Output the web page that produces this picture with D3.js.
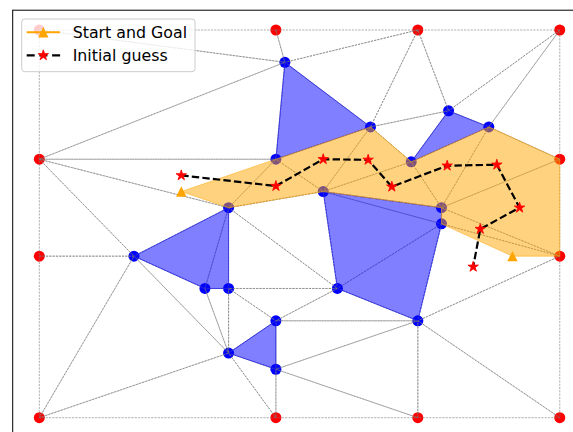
<!DOCTYPE html>
<html>
<head>
<meta charset="utf-8">
<script src="https://cdn.jsdelivr.net/npm/d3@7"></script>
<style>
  html, body { margin: 0; padding: 0; background: #fff; overflow: hidden; }
  svg { display: block; }
</style>
</head>
<body>
<svg id="chart" width="573" height="432"></svg>
<script>
// Mesh nodes: fixed boundary anchors first, then obstacle corners
const boundaryX = [0, 5, 8, 11, 0, 11, 0, 11, 0, 5, 8, 11];
const boundaryY = [12, 12, 12, 12, 8, 8, 5, 5, 0, 0, 0, 0];
const obstacleX = [5.19, 7, 5, 8.65, 9.5, 7.86, 6, 8.5, 8.5, 6.3, 8, 4, 2, 3.5, 4, 5, 4, 5];
const obstacleY = [11, 9, 8, 9.5, 9, 7.92, 7, 6.5, 6, 4, 3, 6.5, 5, 4, 4, 3, 2, 1.5];

// Triangulation of the nodes (indices: boundary 0-11, obstacle 12-29)
const triangles = [
  [0, 1, 12], [1, 2, 12], [2, 12, 13], [2, 13, 15], [2, 3, 15], [3, 15, 16],
  [3, 16, 5], [13, 15, 17], [15, 16, 17], [12, 13, 14], [4, 12, 14], [0, 12, 4],
  [4, 14, 23], [14, 13, 18], [13, 17, 18], [17, 18, 19], [16, 17, 19], [16, 19, 5],
  [5, 19, 7], [19, 20, 7], [18, 19, 20], [18, 20, 21], [20, 21, 22], [20, 22, 7],
  [7, 22, 11], [22, 11, 10], [22, 29, 10], [29, 10, 9], [27, 29, 22], [21, 27, 22],
  [18, 23, 21], [23, 21, 26], [21, 26, 27], [26, 27, 28], [27, 28, 29], [28, 29, 9],
  [8, 28, 9], [8, 24, 28], [24, 25, 28], [25, 26, 28], [23, 24, 25], [23, 25, 26],
  [4, 23, 24], [4, 24, 6], [6, 24, 8], [14, 23, 18]
];

// Obstacle outlines (node indices)
const obstacles = [
  [12, 13, 14],
  [15, 16, 17],
  [18, 19, 20, 22, 21],
  [23, 24, 25, 26],
  [27, 28, 29]
];

// Free corridor joining start and goal
const corridorX = [3, 5, 7, 7.86, 9.5, 11, 11, 10, 8.5, 8.5, 6, 4];
const corridorY = [7, 8, 9, 7.92, 9, 8, 5, 5, 6, 6.5, 7, 6.5];

// Start and goal
const startGoalX = [3, 10];
const startGoalY = [7, 5];

// Initial guess waypoints
const guessX = [3, 5, 6, 6.95, 7.45, 8.62, 9.67, 10.15, 9.32, 9.17];
const guessY = [7.5, 7.17, 8, 7.98, 7.15, 7.8, 7.83, 6.5, 5.84, 4.67];

const legendLabels = ["Start and Goal", "Initial guess"];

const nodesX = boundaryX.concat(obstacleX);
const nodesY = boundaryY.concat(obstacleY);
const nodes = nodesX.map((v, i) => [v, nodesY[i]]);

const svg = d3.select("#chart");

const x = d3.scaleLinear().domain([-0.55, 11.55]).range([13.3, 585.8]);
const y = d3.scaleLinear().domain([-0.6, 12.6]).range([437.1, 10.6]);

const ORANGE = "#ffa500";

const closed = d3.line().x(d => x(d[0])).y(d => y(d[1])).curve(d3.curveLinearClosed);

// nodes
svg.append("g").selectAll("circle")
  .data(nodes)
  .join("circle")
  .attr("cx", d => x(d[0]))
  .attr("cy", d => y(d[1]))
  .attr("r", 5.5)
  .attr("fill", (d, i) => i < boundaryX.length ? "#ff0000" : "#0000ff");

// triangulation edges, each triangle outlined
svg.append("g").selectAll("path")
  .data(triangles)
  .join("path")
  .attr("d", t => closed(t.map(i => nodes[i])))
  .attr("fill", "none")
  .attr("stroke", "#7a7a7a")
  .attr("stroke-width", 0.6)
  .attr("stroke-dasharray", "2.2,1.1");

// obstacles
svg.append("g").selectAll("path")
  .data(obstacles)
  .join("path")
  .attr("d", p => closed(p.map(i => nodes[i])))
  .attr("fill", "#0000ff")
  .attr("fill-opacity", 0.5)
  .attr("stroke", "#0000ff")
  .attr("stroke-opacity", 0.5)
  .attr("stroke-width", 1);

// corridor
const corridor = corridorX.map((v, i) => [v, corridorY[i]]);
svg.append("path")
  .attr("d", closed(corridor))
  .attr("fill", ORANGE)
  .attr("fill-opacity", 0.5)
  .attr("stroke", ORANGE)
  .attr("stroke-opacity", 0.5)
  .attr("stroke-width", 1);

// initial guess
const guess = guessX.map((v, i) => [v, guessY[i]]);
svg.append("path")
  .attr("d", d3.line().x(d => x(d[0])).y(d => y(d[1]))(guess))
  .attr("fill", "none")
  .attr("stroke", "#000")
  .attr("stroke-width", 2.2)
  .attr("stroke-dasharray", "7.4,3.2");

const star = d3.symbol().type(d3.symbolStar).size(34);
svg.append("g").selectAll("path")
  .data(guess)
  .join("path")
  .attr("transform", d => `translate(${x(d[0])},${y(d[1])})`)
  .attr("d", star)
  .attr("fill", "#ff0000")
  .attr("stroke", "#ff0000")
  .attr("stroke-width", 0.8);

// start / goal markers (triangle as tall as it is wide)
const tri = h => `M0,${-h}L${-h},${h}L${h},${h}Z`;
svg.append("g").selectAll("path")
  .data(startGoalX.map((v, i) => [v, startGoalY[i]]))
  .join("path")
  .attr("transform", d => `translate(${x(d[0])},${y(d[1])})`)
  .attr("d", tri(5.2))
  .attr("fill", ORANGE);

// axes frame
svg.append("rect")
  .attr("x", x(-0.55) - 0.6)
  .attr("y", y(12.6) - 0.4)
  .attr("width", x(11.55) - x(-0.55))
  .attr("height", y(-0.6) - y(12.6))
  .attr("fill", "none")
  .attr("stroke", "#000")
  .attr("stroke-width", 1);

// legend
const lg = svg.append("g");
lg.append("rect")
  .attr("x", 21.7).attr("y", 19)
  .attr("width", 173.3).attr("height", 52.7)
  .attr("rx", 3)
  .attr("fill", "#fff").attr("fill-opacity", 0.8)
  .attr("stroke", "#cccccc").attr("stroke-width", 1);

lg.append("line")
  .attr("x1", 26.7).attr("x2", 60).attr("y1", 32.3).attr("y2", 32.3)
  .attr("stroke", ORANGE).attr("stroke-width", 2);
lg.append("path")
  .attr("transform", "translate(43.3,32.3)")
  .attr("d", tri(5.2))
  .attr("fill", ORANGE);

lg.append("line")
  .attr("x1", 26.7).attr("x2", 60.1).attr("y1", 55.3).attr("y2", 55.3)
  .attr("stroke", "#000").attr("stroke-width", 2.2)
  .attr("stroke-dasharray", "8,4.7");
lg.append("path")
  .attr("transform", "translate(43.3,55.3)")
  .attr("d", star)
  .attr("fill", "#ff0000").attr("stroke", "#ff0000").attr("stroke-width", 0.8);

lg.selectAll("text")
  .data(legendLabels)
  .join("text")
  .attr("x", 72.7)
  .attr("y", (d, i) => 37.6 + i * 23)
  .attr("font-family", "DejaVu Sans")
  .attr("font-size", 15.8)
  .attr("fill", "#000")
  .text(d => d);
</script>
</body>
</html>
